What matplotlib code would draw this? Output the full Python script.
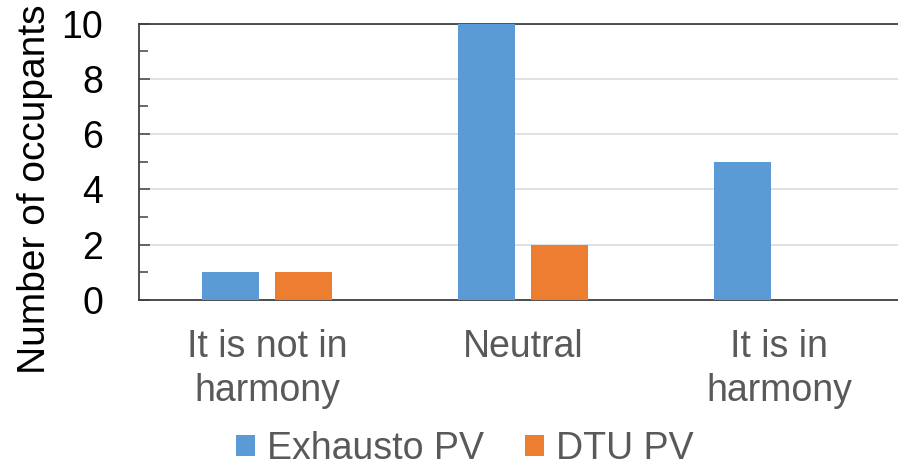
import matplotlib
matplotlib.use("Agg")
import matplotlib.pyplot as plt
import numpy as np

categories = ["It is not in\nharmony", "Neutral", "It is in\nharmony"]
series_names = ["Exhausto PV", "DTU PV"]
exhausto_pv = [1, 10, 5]
dtu_pv = [1, 2, 0]
y_ticks = [0, 2, 4, 6, 8, 10]

plt.rcParams["font.family"] = ["Liberation Sans", "DejaVu Sans"]
FS = 27

fig = plt.figure(figsize=(8.98, 4.68), dpi=100)
ax = fig.add_axes([139 / 898, 1 - 300 / 468, 768 / 898, 276.5 / 468])

x = np.arange(len(categories))
width = 0.223
off = 0.141
ax.bar(x - off, exhausto_pv, width, color="#5B9BD5", label=series_names[0], zorder=3)
ax.bar(x + off, dtu_pv, width, color="#ED7D31", label=series_names[1], zorder=3)

ax.set_xlim(-0.5, 2.5)
ax.set_ylim(0, 10)
ax.set_yticks(y_ticks)
ax.set_yticks(np.arange(1, 10, 2), minor=True)
ax.set_xticks(x)
ax.set_xticklabels(categories, fontsize=FS, color="#595959", linespacing=1.27)
ax.tick_params(axis="x", length=0, pad=21)
ax.tick_params(axis="y", which="major", direction="in", length=8, width=1.1,
               color="#404040", labelsize=FS, labelcolor="black", pad=26)
ax.tick_params(axis="y", which="minor", direction="in", length=6.5, width=1.1,
               color="#404040")

ax.grid(axis="y", which="major", color="#D9D9D9", linewidth=1.1, zorder=0)
for side in ["left", "bottom", "top"]:
    ax.spines[side].set_color("#404040")
    ax.spines[side].set_linewidth(1.3)
ax.spines["right"].set_visible(False)

ax.set_ylabel("Number of occupants", fontsize=28, color="black")
ax.yaxis.set_label_coords(-0.112, 0.40)

fig.legend(loc="center", bbox_to_anchor=(0.518, 0.041), ncol=2, frameon=False,
           fontsize=FS, handlelength=0.5, handleheight=0.5, handletextpad=0.32,
           columnspacing=1.1, labelcolor="#595959", borderpad=0.1)

fig.savefig("out.png", dpi=100)
